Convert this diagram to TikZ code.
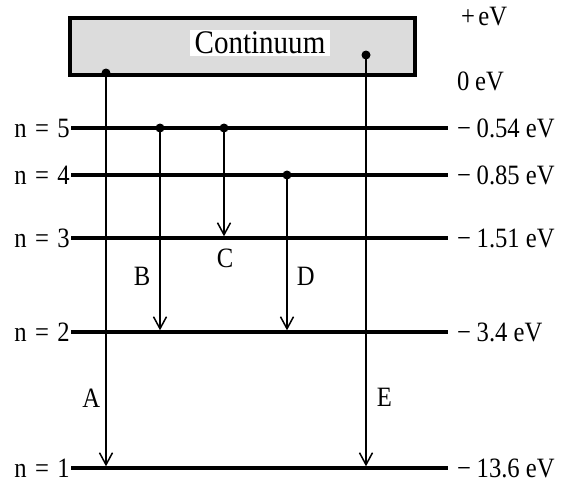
\documentclass[tikz,border=0pt]{standalone}
\usepackage{fontspec}
\setmainfont[FakeStretch=0.88]{Liberation Serif}
\usepackage{xcolor}
\usetikzlibrary{arrows.meta,patterns}
\definecolor{cCont}{HTML}{DCDCDC}
\tikzset{
  >={Straight Barb[length=12pt,width=13pt,line width=1.5pt]},
  lvl/.style    ={line width=3.4pt},
  trans/.style  ={->,line width=1.6pt,shorten >=1.7pt},
  txt/.style    ={font=\fontsize{28}{32}\selectfont,inner sep=1pt},
  dotmark/.style={fill=black},
}

\begin{document}
\begin{tikzpicture}[x=1pt,y=-1pt]
  \useasboundingbox (0,0) rectangle (571,491);
  % continuum box
  \draw[line width=4pt,fill=cCont] (70,18) rectangle (415,75);
  \node[txt,font=\fontsize{33}{37}\selectfont,fill=white,inner xsep=5pt,inner ysep=2pt] (cont) at (260,43) {Continuum};
  \node[txt,anchor=west] (plus) at (460,17) {+\hspace{0.12em}eV};
  \node[txt,anchor=west] (zero) at (456,81) {0\hspace{0.2em}eV};
  % energy levels
  \foreach \n/\y/\e in {5/128/0.54, 4/175/0.85, 3/238/1.51, 2/332/3.4, 1/468/13.6}{
    \node[txt,anchor=east] (n\n) at (71,\y) {n\hspace{0.3em}=\hspace{0.3em}\n};
    \node[txt,anchor=west] (e\n) at (456,\y) {−\hspace{0.2em}\e\ eV};
    \draw[lvl,shorten >=8pt] (n\n.east) -- (e\n.west);
  }
  % transitions
  \coordinate (a0) at (106,73);
  \coordinate (b0) at (160,128);
  \coordinate (c0) at (224,128);
  \coordinate (d0) at (287,175);
  \coordinate (f0) at (366,55);
  \draw[trans] (a0) -- (a0 |- n1) node[txt,pos=0.824,left=4pt] (la) {A};
  \draw[trans] (b0) -- (b0 |- n2) node[txt,pos=0.725,left=8pt] (lb) {B};
  \draw[trans] (c0) -- (c0 |- n3);
  \draw[trans] (d0) -- (d0 |- n2) node[txt,pos=0.645,right=8pt] (ld) {D};
  \draw[trans] (f0) -- (f0 |- n1) node[txt,pos=0.828,right=9pt] (le) {E};
  \node[txt] (lc) at (225,258) {C};
  \foreach \p in {a0,b0,c0,d0,f0}
    \fill[dotmark] (\p) circle (4.5pt);
\end{tikzpicture}
\end{document}
